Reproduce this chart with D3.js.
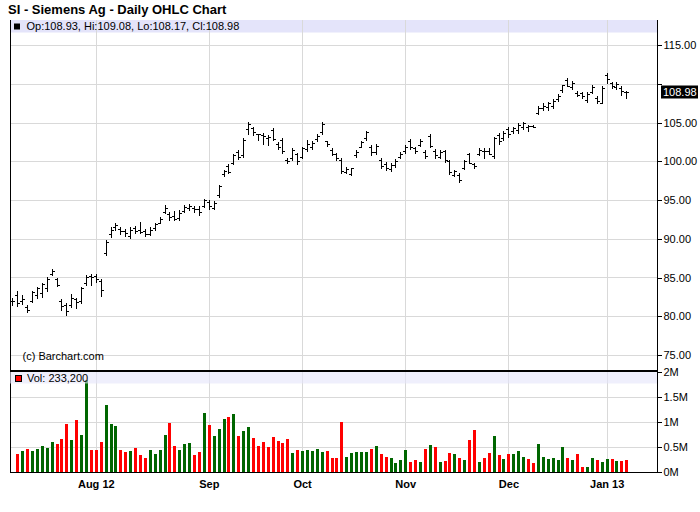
<!DOCTYPE html>
<html><head><meta charset="utf-8">
<script src="https://cdn.jsdelivr.net/npm/d3@7"></script>
<style>
body{margin:0;background:#fff}
svg text{font-family:Arial,"Liberation Sans",Helvetica,sans-serif}
</style>
</head><body>
<svg id="c" width="700" height="512"></svg>
<script>
const dates = [
"2012-07-09","2012-07-10","2012-07-11","2012-07-12","2012-07-13","2012-07-16","2012-07-17","2012-07-18","2012-07-19","2012-07-20",
"2012-07-23","2012-07-24","2012-07-25","2012-07-26","2012-07-27","2012-07-30","2012-07-31",
"2012-08-01","2012-08-02","2012-08-03","2012-08-06","2012-08-07","2012-08-08","2012-08-09","2012-08-10","2012-08-13","2012-08-14",
"2012-08-15","2012-08-16","2012-08-17","2012-08-20","2012-08-21","2012-08-22","2012-08-23","2012-08-24","2012-08-27","2012-08-28",
"2012-08-29","2012-08-30","2012-08-31",
"2012-09-04","2012-09-05","2012-09-06","2012-09-07","2012-09-10","2012-09-11","2012-09-12","2012-09-13","2012-09-14","2012-09-17",
"2012-09-18","2012-09-19","2012-09-20","2012-09-21","2012-09-24","2012-09-25","2012-09-26","2012-09-27","2012-09-28",
"2012-10-01","2012-10-02","2012-10-03","2012-10-04","2012-10-05","2012-10-08","2012-10-09","2012-10-10","2012-10-11","2012-10-12",
"2012-10-15","2012-10-16","2012-10-17","2012-10-18","2012-10-19","2012-10-22","2012-10-23","2012-10-24","2012-10-25","2012-10-26","2012-10-31",
"2012-11-01","2012-11-02","2012-11-05","2012-11-06","2012-11-07","2012-11-08","2012-11-09","2012-11-12","2012-11-13","2012-11-14",
"2012-11-15","2012-11-16","2012-11-19","2012-11-20","2012-11-21","2012-11-23","2012-11-26","2012-11-27","2012-11-28","2012-11-29","2012-11-30",
"2012-12-03","2012-12-04","2012-12-05","2012-12-06","2012-12-07","2012-12-10","2012-12-11","2012-12-12","2012-12-13","2012-12-14",
"2012-12-17","2012-12-18","2012-12-19","2012-12-20","2012-12-21","2012-12-24","2012-12-26","2012-12-27","2012-12-28","2012-12-31",
"2013-01-02","2013-01-03","2013-01-04","2013-01-07","2013-01-08"];

const opens = [
81.9,82.8,81.9,81.2,81.9,82.8,83.0,83.6,85.5,84.8,
82.0,81.5,81.5,82.2,81.9,84.3,85.2,85.2,84.5,88.2,
90.6,91.5,91.3,91.0,90.4,91.4,91.2,91.0,90.6,91.4,
92.1,93.5,93.2,93.0,92.7,93.6,94.0,94.0,93.9,94.3,
94.8,94.0,95.6,98.4,99.4,99.8,101.2,100.8,104.2,104.3,
103.5,103.4,103.0,104.0,102.3,102.8,100.2,100.4,100.9,100.6,
101.6,101.8,102.9,103.8,102.6,101.5,100.9,100.2,98.6,98.4,
100.8,101.9,103.0,101.8,101.2,100.2,99.6,99.0,99.5,100.6,
101.3,102.7,101.7,102.1,101.2,103.3,101.3,100.6,101.3,100.0,
98.2,98.3,99.2,100.9,99.7,100.9,101.4,101.4,100.7,103.4,
103.0,104.2,103.9,104.0,104.5,104.5,104.6,106.3,106.9,107.0,
107.2,108.0,109.2,110.5,109.6,108.9,108.8,107.9,109.0,108.2,
107.6,111.2,110.1,109.6,109.5,108.93];

const highs = [
82.3,83.2,82.75,81.4,83.3,83.8,84.3,85.0,86.1,84.9,
82.2,81.75,82.9,82.4,83.8,85.3,85.45,85.5,84.8,89.9,
91.55,92.07,91.55,91.3,91.47,91.64,92.2,91.3,91.55,92.07,
92.85,94.35,93.5,93.6,93.7,94.35,94.44,94.2,94.2,95.2,
95.0,94.87,97.0,98.95,99.6,101.0,101.5,103.0,105.1,104.5,
103.6,103.7,103.4,104.3,102.5,103.0,100.4,101.7,101.05,101.9,
102.8,102.6,103.5,105.1,102.7,101.7,101.1,100.4,99.25,99.2,
101.45,102.65,103.95,102.1,102.25,100.4,99.95,99.8,100.3,101.2,
102.15,102.95,101.9,102.95,101.5,103.5,101.55,101.5,101.5,100.15,
98.9,98.5,100.2,101.1,99.8,101.7,101.7,101.7,103.2,103.7,
103.9,104.5,104.5,105.0,105.1,104.7,104.7,107.1,107.5,107.7,
108.0,108.7,109.9,110.8,110.4,109.05,108.96,108.96,109.9,108.4,
109.7,111.4,110.3,110.3,109.7,109.08];

const lows = [
81.4,81.3,81.6,80.6,81.8,82.4,82.5,83.3,85.3,83.9,
80.8,80.1,81.2,81.1,81.75,84.0,84.0,84.45,82.6,87.9,
90.26,91.12,90.56,90.4,90.04,90.7,90.8,90.4,90.43,91.2,
91.98,93.3,92.4,92.4,92.4,93.4,93.7,93.5,93.06,94.1,
93.8,93.8,95.35,98.15,98.45,99.6,100.3,100.6,103.6,103.4,
102.8,102.25,102.1,102.8,101.6,101.05,99.8,100.2,99.6,100.4,
101.4,101.6,102.7,103.5,102.0,100.8,100.15,98.5,98.45,98.2,
100.6,101.8,102.8,100.8,101.0,99.1,98.9,98.75,99.3,100.4,
101.1,101.65,101.1,101.95,100.4,101.8,100.4,100.4,99.9,98.35,
98.05,97.3,99.05,99.8,99.2,100.8,100.4,100.9,100.5,102.2,
102.8,103.2,103.7,103.7,104.2,103.9,104.4,106.1,106.7,106.7,
106.9,107.8,109.0,109.7,109.4,108.4,108.2,107.7,108.8,107.5,
107.5,110.1,109.5,109.4,108.6,108.17];

const closes = [
82.0,81.7,82.2,80.8,83.1,83.6,84.1,84.8,85.8,84.0,
81.3,80.7,82.4,81.8,83.6,85.1,85.0,84.8,83.4,89.6,
91.2,91.8,91.0,90.8,91.2,91.0,90.9,90.6,91.2,91.9,
92.6,94.0,92.8,92.6,93.3,94.1,94.2,93.8,93.5,95.0,
94.2,94.6,96.8,98.7,98.6,100.8,100.6,102.8,104.8,103.8,
103.5,103.3,103.1,102.9,101.8,101.3,100.0,101.5,100.0,101.7,
102.2,102.4,103.3,104.8,102.2,101.0,100.4,98.8,99.0,99.1,
101.2,102.5,103.8,101.2,102.0,99.4,99.2,99.5,100.0,101.0,
101.9,101.8,101.4,102.7,100.7,102.0,100.8,101.2,100.2,98.6,
98.7,97.6,100.0,99.85,99.4,101.5,101.3,101.0,103.0,102.6,
103.7,103.5,104.3,104.7,104.9,104.6,104.5,106.9,107.2,107.5,
107.8,108.5,109.85,109.75,110.1,108.6,108.4,108.7,109.6,107.8,
109.5,110.6,109.8,110.0,109.1,108.98];

const volumes = [
null,353000,413000,453000,413000,453000,513000,473000,593000,553000,
653000,953000,633000,1033000,733000,1833000,433000,433000,593000,1333000,
953000,913000,433000,393000,413000,473000,333000,273000,433000,353000,
433000,733000,973000,513000,433000,553000,573000,333000,393000,1173000,
933000,713000,853000,1053000,1093000,1153000,713000,820000,893000,673000,
513000,593000,493000,693000,613000,573000,653000,373000,433000,413000,
433000,413000,453000,393000,413000,273000,273000,993000,293000,373000,
393000,393000,393000,453000,513000,353000,293000,273000,173000,233000,
433000,193000,233000,193000,453000,533000,493000,193000,213000,373000,
353000,273000,233000,633000,833000,193000,273000,373000,713000,333000,
253000,353000,353000,413000,293000,253000,173000,553000,293000,253000,
273000,233000,493000,273000,233000,353000,93000,93000,273000,233000,
193000,253000,253000,213000,213000,233200];

const monthTickLabels = ["Aug 12","Sep","Oct","Nov","Dec","Jan 13"];
const priceTicks = [75,80,85,90,95,100,105,110,115];
const volumeTicks = [0,500000,1000000,1500000,2000000];
const volumeTickLabels = ["0M","0.5M","1M","1.5M","2M"];
const chartTitle = "SI - Siemens Ag - Daily OHLC Chart";

// ---- layout ----
const svg = d3.select("#c");
const L = 10, R = 657;
const pTop = 20, pBot = 371, vBot = 472;
const GRID = "#d9d9d9", BAND = "#e4e4fa", UP = "#006600", DOWN = "#ff0000";
const snap = v => Math.round(v) + 0.5;

const x = d3.scaleLinear().domain([0, dates.length - 1]).range([12.3, 626.3]);
const y = d3.scaleLinear().domain([75, 115]).range([354.9, 45.3]);
const yv = d3.scaleLinear().domain([0, 2000000]).range([471.7, 371.7]);

const n = dates.length - 1;
const lastY = y(closes[n]);

// month starts
const monthStarts = [];
for (let i = 1; i < dates.length; i++) {
  if (dates[i].slice(0, 7) !== dates[i - 1].slice(0, 7)) monthStarts.push(i);
}

svg.append("rect").attr("width", 700).attr("height", 512).attr("fill", "#fff");

// price legend band
svg.append("rect").attr("x", L).attr("y", pTop).attr("width", R - L).attr("height", 12.5).attr("fill", BAND);

const g = svg.append("g").attr("shape-rendering", "crispEdges");

// horizontal price grid
g.selectAll(".pg").data(priceTicks).join("line")
  .attr("x1", L).attr("x2", R).attr("y1", d => snap(y(d))).attr("y2", d => snap(y(d)))
  .attr("stroke", GRID);
// horizontal volume grid
g.selectAll(".vg").data(volumeTicks.slice(1, -1)).join("line")
  .attr("x1", L).attr("x2", R).attr("y1", d => snap(yv(d))).attr("y2", d => snap(yv(d)))
  .attr("stroke", GRID);
// vertical grid
g.selectAll(".xg").data(monthStarts).join("line")
  .attr("x1", d => snap(x(d))).attr("x2", d => snap(x(d))).attr("y1", pTop).attr("y2", vBot)
  .attr("stroke", GRID);

// volume bars
const volData = volumes.map((v, i) => ({ v, i })).filter(d => d.v != null && d.i > 0);
g.selectAll(".vb").data(volData).join("rect")
  .attr("x", d => Math.round(x(d.i)) - 1).attr("width", 3)
  .attr("y", d => Math.round(yv(d.v))).attr("height", d => Math.round(yv(0)) - Math.round(yv(d.v)))
  .attr("fill", d => closes[d.i] < closes[d.i - 1] ? DOWN : UP);

// volume legend band (translucent over bars)
svg.append("rect").attr("x", L).attr("y", pBot + 1).attr("width", R - L).attr("height", 11.5)
  .attr("fill", BAND).attr("opacity", 0.6);

// OHLC bars
const ohlc = g.append("g").attr("stroke", "#000");
dates.forEach((d, i) => {
  const cx = snap(x(i));
  ohlc.append("line").attr("x1", cx).attr("x2", cx)
    .attr("y1", Math.round(y(highs[i]))).attr("y2", Math.round(y(lows[i])) + 1);
  ohlc.append("line").attr("x1", cx - 2.5).attr("x2", cx)
    .attr("y1", snap(y(opens[i]))).attr("y2", snap(y(opens[i])));
  ohlc.append("line").attr("x1", cx).attr("x2", cx + 2.5)
    .attr("y1", snap(y(closes[i]))).attr("y2", snap(y(closes[i])));
});

// frame lines
g.append("line").attr("x1", L + 0.5).attr("x2", L + 0.5).attr("y1", pTop).attr("y2", vBot + 0.5).attr("stroke", "#000");
g.append("line").attr("x1", R + 0.5).attr("x2", R + 0.5).attr("y1", pTop).attr("y2", vBot + 0.5).attr("stroke", "#000");
g.append("line").attr("x1", L).attr("x2", R + 1).attr("y1", pBot).attr("y2", pBot).attr("stroke", "#000").attr("stroke-width", 2);
g.append("line").attr("x1", L).attr("x2", R + 1).attr("y1", vBot + 0.5).attr("y2", vBot + 0.5).attr("stroke", "#000");

// right price axis (the label hidden behind the last-price box is not drawn)
const yAxis = d3.axisRight(y).tickValues(priceTicks).tickFormat(d3.format(".2f")).tickSize(4).tickPadding(2);
const ya = svg.append("g").attr("transform", `translate(${R + 0.5},0)`).call(yAxis);
ya.select(".domain").remove();
ya.selectAll("line").attr("shape-rendering", "crispEdges");
ya.selectAll("text").attr("font-size", 11).attr("fill", "#000").attr("font-family", "Arial, 'Liberation Sans', sans-serif");
ya.selectAll(".tick").filter(d => Math.abs(y(d) - lastY) < 12).select("text").remove();

// right volume axis
const vAxis = d3.axisRight(yv).tickValues(volumeTicks).tickFormat((d, i) => volumeTickLabels[i]).tickSize(4).tickPadding(2);
const va = svg.append("g").attr("transform", `translate(${R + 0.5},0)`).call(vAxis);
va.select(".domain").remove();
va.selectAll("line").attr("shape-rendering", "crispEdges");
va.selectAll("text").attr("font-size", 11).attr("fill", "#000").attr("font-family", "Arial, 'Liberation Sans', sans-serif");

// bottom month labels
const xAxis = d3.axisBottom(x).tickValues(monthStarts).tickFormat((d, i) => monthTickLabels[i]).tickSize(0).tickPadding(8);
const xa = svg.append("g").attr("transform", `translate(0,${vBot})`).call(xAxis);
xa.select(".domain").remove();
xa.selectAll("text").attr("font-size", 11).attr("font-weight", "bold").attr("fill", "#000")
  .attr("font-family", "Arial, 'Liberation Sans', sans-serif");

// last price box
svg.append("rect").attr("x", 661).attr("y", Math.round(lastY) - 6.5).attr("width", 37).attr("height", 13).attr("fill", "#000");
svg.append("text").attr("x", 663).attr("y", lastY).attr("dy", "0.35em").attr("font-size", 11).attr("fill", "#fff")
  .text(d3.format(".2f")(closes[n]));

// title
svg.append("text").attr("x", 8).attr("y", 14).attr("font-size", 13).attr("font-weight", "bold").text(chartTitle);

// price legend
svg.append("rect").attr("x", 14).attr("y", 23.5).attr("width", 6).attr("height", 6).attr("fill", "#000");
const f2 = d3.format(".2f");
svg.append("text").attr("x", 26.5).attr("y", 30).attr("font-size", 11)
  .text(`Op:${f2(opens[n])}, Hi:${f2(highs[n])}, Lo:${f2(lows[n])}, Cl:${f2(closes[n])}`);

// copyright
svg.append("text").attr("x", 22.5).attr("y", 360).attr("font-size", 11).text("(c) Barchart.com");

// volume legend
svg.append("rect").attr("x", 15.5).attr("y", 375.5).attr("width", 6).attr("height", 6)
  .attr("fill", closes[n] < closes[n - 1] ? DOWN : UP).attr("stroke", "#000").attr("shape-rendering", "crispEdges");
svg.append("text").attr("x", 27).attr("y", 382).attr("font-size", 11)
  .text("Vol: " + d3.format(",")(volumes[n]));
</script>
</body></html>
